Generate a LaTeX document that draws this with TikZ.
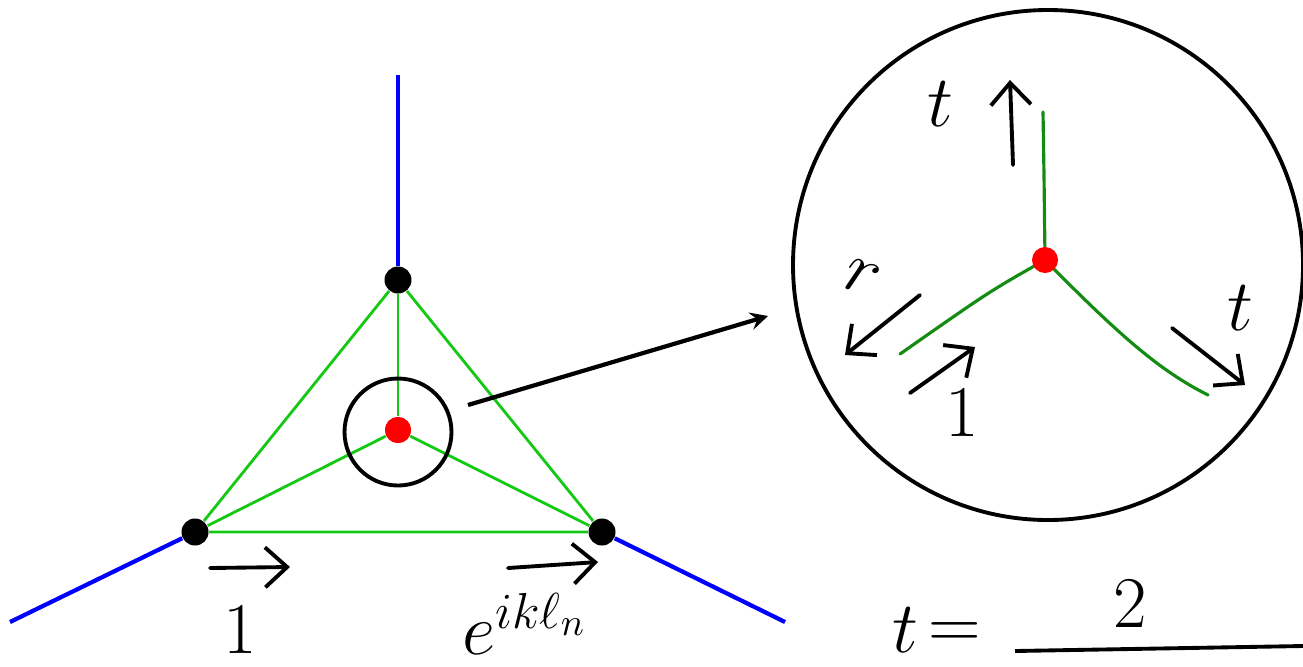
\documentclass[tikz,border=0pt]{standalone}
\usepackage{amsmath,amssymb}
\usetikzlibrary{arrows.meta}
\definecolor{lgreen}{RGB}{20,200,20}
\definecolor{dgreen}{RGB}{20,140,20}
\tikzset{
  vert/.style={circle,fill=black,inner sep=0pt,minimum size=0.27cm},
  hub/.style={circle,fill=red,inner sep=0pt,minimum size=0.26cm},
  lead/.style={blue,line width=1.2pt},
  bond/.style={lgreen,line width=0.8pt},
  arm/.style={dgreen,line width=0.9pt,line cap=round},
  hand/.style={line width=1.1pt,line cap=round,-{Straight Barb[length=2.2mm,width=4mm]}},
  lbl/.style={font=\fontsize{22}{26}\selectfont}
}
\newcommand{\ikl}{e^{ik\ell_n}}
\begin{document}
\begin{tikzpicture}[>=stealth]
			\useasboundingbox (0,0) rectangle (13.03,6.66);
			% graph on the left
			\node[hub] (c) at (3.98,2.36) {};
			\node[vert] (top) at (3.98,3.86) {};
			\node[vert] (left) at (1.95,1.34) {};
			\node[vert] (right) at (6.02,1.34) {};
			\coordinate (topend) at (3.98,5.91);
			\coordinate (leftend) at (0.10,0.44);
			\coordinate (rightend) at (7.85,0.44);
			\draw[lead] (top) -- (topend);
			\draw[lead] (left) -- (leftend);
			\draw[lead] (right) -- (rightend);
			\draw[bond] (top) -- (left) -- (right) -- (top);
			\draw[bond] (c) -- (top);
			\draw[bond] (c) -- (left);
			\draw[bond] (c) -- (right);
			\node[circle,draw,line width=1.1pt,minimum size=1.07cm] (zoom) at (3.98,2.34) {};
			\node[hub] at (c) {};
			% zoomed vertex
			\node[circle,draw,line width=1.1pt,minimum size=5.1cm] (big) at (10.48,4.01) {};
			\coordinate (tip) at (7.68,3.50);
			\draw[->,line width=1.2pt] (4.68,2.61) -- (tip);
			\coordinate (zu) at (10.43,5.54);
			\coordinate (zl) at (9.00,3.12);
			\coordinate (zr) at (12.08,2.71);
			\draw[arm] (10.45,4.06) -- (10.44,4.9) -- (zu);
			\draw[arm] (10.45,4.06) .. controls (9.9,3.75) .. (zl);
			\draw[arm] (10.45,4.06) .. controls (11.2,3.3) and (11.6,2.95) .. (zr);
			\node[hub] (z) at (10.45,4.06) {};
			% amplitudes
			\coordinate (ua) at (10.13,5.01);
			\coordinate (ub) at (10.10,5.86);
			\draw[hand] (ua) -- (ub);
			\node[lbl] (tu) at (9.40,5.62) {$t$};
			\coordinate (ra) at (9.20,3.71);
			\coordinate (rb) at (8.45,3.11);
			\draw[hand] (ra) -- (rb);
			\node[lbl,rotate=-20] (rr) at (8.62,3.88) {$r$};
			\coordinate (ia) at (9.10,2.73);
			\coordinate (ib) at (9.75,3.19);
			\draw[hand] (ia) -- (ib);
			\node[lbl] (in) at (9.62,2.53) {$1$};
			\coordinate (sa) at (11.72,3.38);
			\coordinate (sb) at (12.45,2.81);
			\draw[hand] (sa) -- (sb);
			\node[lbl] (tr) at (12.40,3.58) {$t$};
			% bottom labels
			\coordinate (ba) at (2.10,0.98);
			\coordinate (bb) at (2.90,0.99);
			\draw[hand] (ba) -- (bb);
			\node[lbl] (one) at (2.40,0.36) {$1$};
			\coordinate (ca) at (5.08,0.98);
			\coordinate (cb) at (5.98,1.04);
			\draw[hand] (ca) -- (cb);
			\node[lbl] (phase) at (5.25,0.42) {$\ikl$};
			% formula, cut at the border
			\node[lbl] (tt) at (9.05,0.36) {$t$};
			\node[lbl] (eq) at (9.55,0.30) {$=$};
			\node[lbl] (two) at (11.30,0.62) {$2$};
			\coordinate (fa) at (10.15,0.15);
			\coordinate (fb) at (13.03,0.20);
			\draw[line width=1.1pt] (fa) -- (fb);
		\end{tikzpicture}
\end{document}
